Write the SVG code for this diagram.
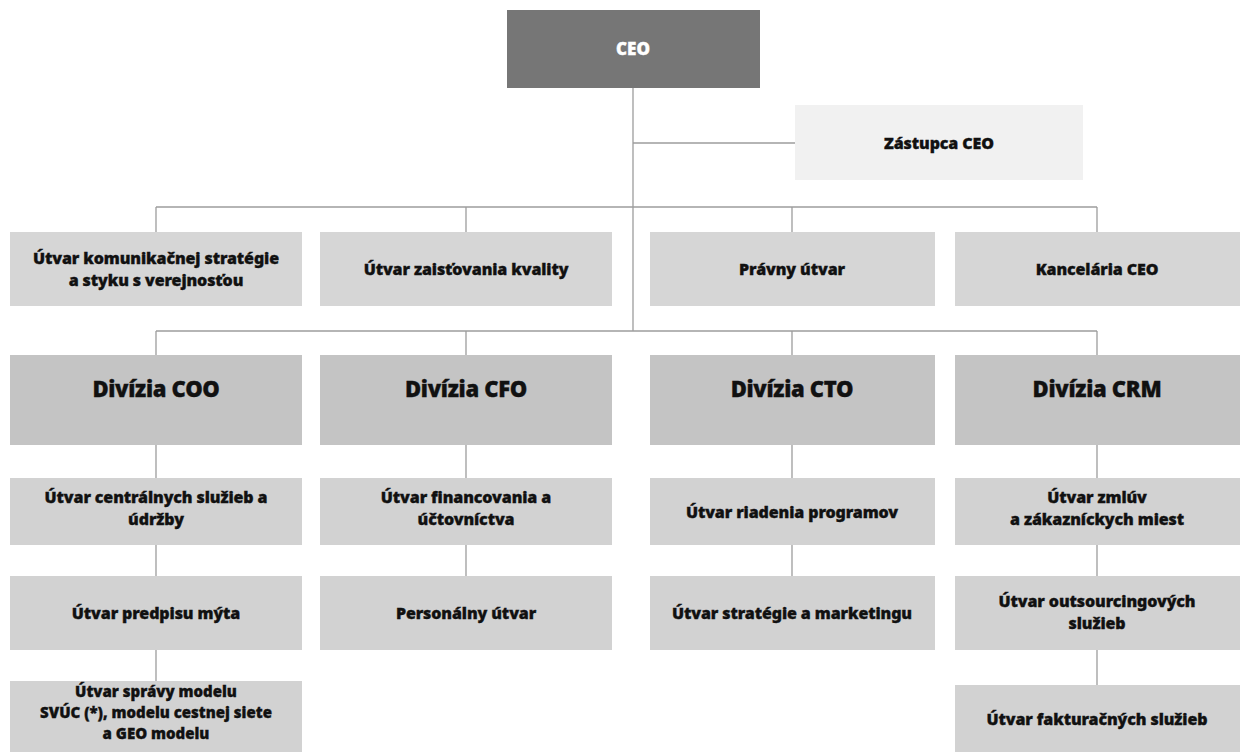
<svg xmlns="http://www.w3.org/2000/svg" width="1245" height="752" viewBox="0 0 1245 752">
<style>
text{font-family:"Noto Sans","Open Sans","Liberation Sans",sans-serif;font-weight:900;fill:#111111;text-anchor:middle;stroke:#111111;stroke-width:0.35}
.t{font-size:16px;letter-spacing:-0.1px}
.s{font-size:15px;letter-spacing:0px}
.d{font-size:22px;letter-spacing:-0.3px}
.ceo{font-size:17px;fill:#ffffff;stroke:#ffffff}
.l2{fill:#d6d6d6}
.div{fill:#c4c4c4}
.sub{fill:#d2d2d2}
.con line{stroke:#9c9c9c;stroke-width:1.3}
</style>
<rect width="1245" height="752" fill="#ffffff"/>
<g class="con">
<line x1="633" y1="88" x2="633" y2="331"/>
<line x1="633" y1="143" x2="795" y2="143"/>
<line x1="156" y1="207" x2="1097" y2="207"/>
<line x1="156" y1="207" x2="156" y2="232"/>
<line x1="466" y1="207" x2="466" y2="232"/>
<line x1="792" y1="207" x2="792" y2="232"/>
<line x1="1097" y1="207" x2="1097" y2="232"/>
<line x1="156" y1="331" x2="1097" y2="331"/>
<line x1="156" y1="331" x2="156" y2="355"/>
<line x1="466" y1="331" x2="466" y2="355"/>
<line x1="792" y1="331" x2="792" y2="355"/>
<line x1="1097" y1="331" x2="1097" y2="355"/>
<line x1="156" y1="445" x2="156" y2="478"/>
<line x1="156" y1="545" x2="156" y2="576"/>
<line x1="156" y1="650" x2="156" y2="681"/>
<line x1="466" y1="445" x2="466" y2="478"/>
<line x1="466" y1="545" x2="466" y2="576"/>
<line x1="792" y1="445" x2="792" y2="478"/>
<line x1="792" y1="545" x2="792" y2="576"/>
<line x1="1097" y1="445" x2="1097" y2="478"/>
<line x1="1097" y1="545" x2="1097" y2="576"/>
<line x1="1097" y1="650" x2="1097" y2="685"/>
</g>
<g id="ceo"><rect x="507" y="10" width="253" height="78" fill="#767676"/><text class="ceo" x="633" y="55">CEO</text></g>
<g id="zastupca"><rect x="795" y="105" width="288" height="75" fill="#f1f1f1"/><text class="t" x="939" y="149">Zástupca CEO</text></g>
<g id="komunikacia"><rect class="l2" x="10" y="232" width="292" height="74"/><text class="t" x="156" y="264">Útvar komunikačnej stratégie</text><text class="t" x="156" y="286">a styku s verejnosťou</text></g>
<g id="kvalita"><rect class="l2" x="320" y="232" width="292" height="74"/><text class="t" x="466" y="275">Útvar zaisťovania kvality</text></g>
<g id="pravny"><rect class="l2" x="650" y="232" width="285" height="74"/><text class="t" x="792" y="275">Právny útvar</text></g>
<g id="kancelaria"><rect class="l2" x="955" y="232" width="285" height="74"/><text class="t" x="1097" y="275">Kancelária CEO</text></g>
<g id="coo"><rect class="div" x="10" y="355" width="292" height="90"/><text class="d" x="156" y="397">Divízia COO</text></g>
<g id="cfo"><rect class="div" x="320" y="355" width="292" height="90"/><text class="d" x="466" y="397">Divízia CFO</text></g>
<g id="cto"><rect class="div" x="650" y="355" width="285" height="90"/><text class="d" x="792" y="397">Divízia CTO</text></g>
<g id="crm"><rect class="div" x="955" y="355" width="285" height="90"/><text class="d" x="1097" y="397">Divízia CRM</text></g>
<g id="centralne"><rect class="sub" x="10" y="478" width="292" height="67"/><text class="t" x="156" y="503">Útvar centrálnych služieb a</text><text class="t" x="156" y="525">údržby</text></g>
<g id="myto"><rect class="sub" x="10" y="576" width="292" height="74"/><text class="t" x="156" y="619">Útvar predpisu mýta</text></g>
<g id="svuc"><rect class="sub" x="10" y="681" width="292" height="71"/><text class="s" x="156" y="697">Útvar správy modelu</text><text class="s" x="156" y="718">SVÚC (*), modelu cestnej siete</text><text class="s" x="156" y="739">a GEO modelu</text></g>
<g id="financovanie"><rect class="sub" x="320" y="478" width="292" height="67"/><text class="t" x="466" y="503">Útvar financovania a</text><text class="t" x="466" y="525">účtovníctva</text></g>
<g id="personalny"><rect class="sub" x="320" y="576" width="292" height="74"/><text class="t" x="466" y="619">Personálny útvar</text></g>
<g id="programy"><rect class="sub" x="650" y="478" width="285" height="67"/><text class="t" x="792" y="518">Útvar riadenia programov</text></g>
<g id="marketing"><rect class="sub" x="650" y="576" width="285" height="74"/><text class="t" x="792" y="619">Útvar stratégie a marketingu</text></g>
<g id="zmluvy"><rect class="sub" x="955" y="478" width="285" height="67"/><text class="t" x="1097" y="503">Útvar zmlúv</text><text class="t" x="1097" y="525">a zákazníckych miest</text></g>
<g id="outsourcing"><rect class="sub" x="955" y="576" width="285" height="74"/><text class="t" x="1097" y="607">Útvar outsourcingových</text><text class="t" x="1097" y="629">služieb</text></g>
<g id="fakturacia"><rect class="sub" x="955" y="685" width="285" height="67"/><text class="t" x="1097" y="725">Útvar fakturačných služieb</text></g>
</svg>
